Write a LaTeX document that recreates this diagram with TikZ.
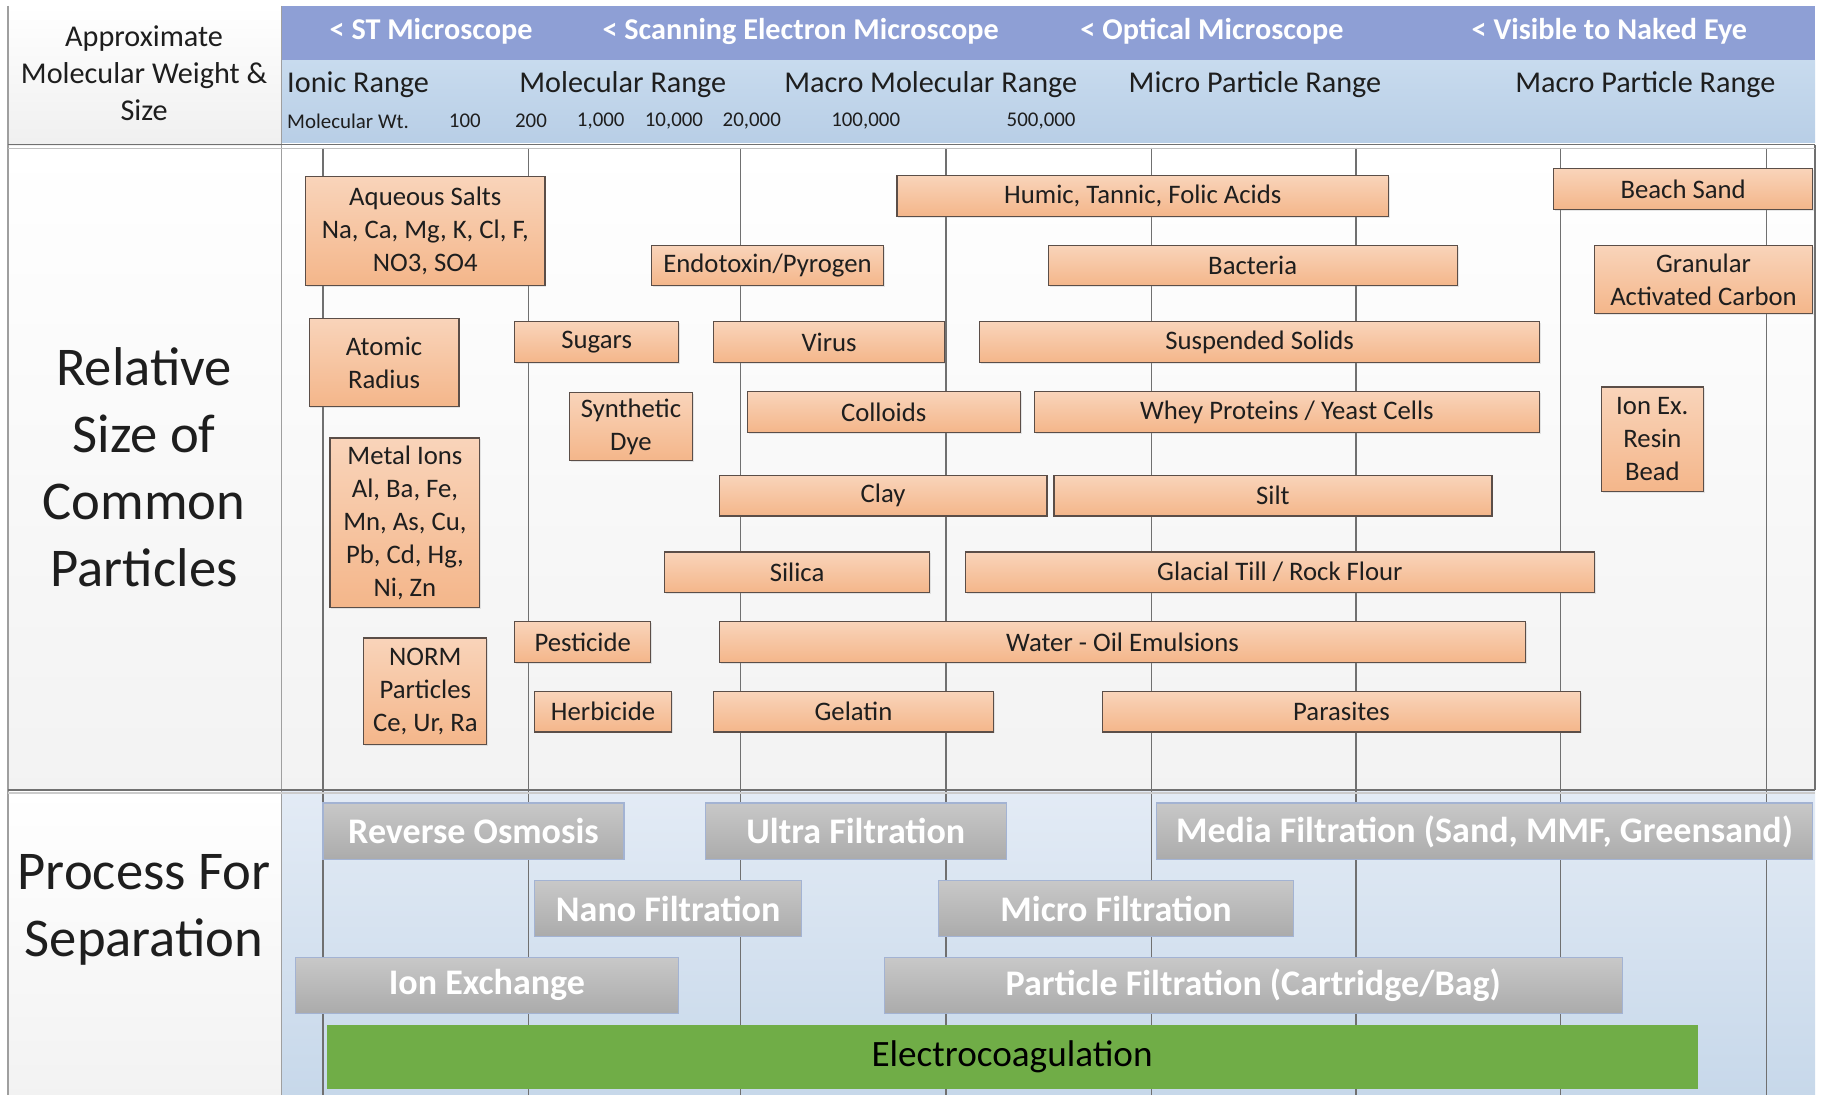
\documentclass[tikz,border=0pt]{standalone}
\usepackage{fontspec}
\setmainfont{Carlito}
\usetikzlibrary{shadows}
\definecolor{orT}{HTML}{F9D4BA}
\definecolor{orB}{HTML}{F4B68A}
\definecolor{orD}{HTML}{5B4E48}
\definecolor{bandD}{HTML}{8E9FD5}
\definecolor{bandLT}{HTML}{C8DBEE}
\definecolor{bandLB}{HTML}{B8CEE6}
\definecolor{procT}{HTML}{E3EBF5}
\definecolor{procB}{HTML}{C7D8EA}
\definecolor{grT}{HTML}{C8C8C8}
\definecolor{grB}{HTML}{ABABAB}
\definecolor{grD}{HTML}{A3B3D3}
\definecolor{ecG}{HTML}{70AD47}
\definecolor{gridc}{HTML}{707070}
\definecolor{txt}{HTML}{1E1E1E}
\tikzset{
  pbox/.style={draw=orD, line width=1pt, top color=orT, bottom color=orB, align=center,
    inner sep=0pt, text=txt, font=\fontsize{23}{28.5}\selectfont,
    drop shadow={shadow xshift=1.2pt, shadow yshift=-1.2pt, opacity=0.18}},
  gbox/.style={draw=grD, line width=1pt, top color=grT, bottom color=grB, align=center,
    inner sep=0pt, text=white, font=\fontsize{31}{36}\selectfont\bfseries},
  lbl/.style={align=center, inner sep=0pt, text=txt},
  hd/.style={inner sep=0pt, text=white, font=\fontsize{26}{30}\selectfont\bfseries},
  rng/.style={inner sep=0pt, text=txt, font=\fontsize{26}{30}\selectfont},
  mw/.style={inner sep=0pt, text=txt, font=\fontsize{18}{22}\selectfont},
  gridline/.style={draw=gridc, line width=1.2pt},
  frame/.style={draw=gray!75, line width=1.2pt}
}
\begin{document}
\begin{tikzpicture}[x=1pt,y=-1pt]
\useasboundingbox (0,0) rectangle (1568,942);
\fill[white] (0,0) rectangle (1568,942);
% backgrounds
\shade[top color=white, bottom color=gray!12] (7,5) rectangle (242,125);
\fill[bandD] (242,5) rectangle (1562,52);
\shade[top color=bandLT, bottom color=bandLB] (242,52) rectangle (1562,123);
\shade[top color=white, bottom color=gray!10] (7,127) rectangle (1562,680);
\shade[top color=white, bottom color=gray!10] (7,680) rectangle (242,942);
\shade[top color=procT, bottom color=procB] (242,681) rectangle (1562,942);
% grid lines
\foreach \gx in {278,455,637,814,991,1167,1343,1520}
  \draw[gridline] (\gx,127) -- (\gx,942);
\draw[frame] (7,5) -- (7,942);
\draw[frame] (242,5) -- (242,942);
\draw[gridline] (1562,125) -- (1562,680);
\draw[gridline] (7,124.5) -- (1562,124.5);
\draw[draw=gray!50, line width=1pt] (7,127.5) -- (1562,127.5);
\draw[gridline] (7,680) -- (1562,680);
\draw[draw=gray!40, line width=1pt] (7,682.5) -- (1562,682.5);
% header left
\node[lbl, font=\fontsize{26}{32}\selectfont] (hdrleft) at (124,63) {Approximate\\Molecular Weight \&\\Size};
% top band
\node[hd] (st) at (371,27) {< ST Microscope};
\node[hd] (sem) at (689,27) {< Scanning Electron Microscope};
\node[hd] (opt) at (1043,27) {< Optical Microscope};
\node[hd] (eye) at (1385,27) {< Visible to Naked Eye};
% range row
\node[rng, anchor=west] (ionic) at (247,73) {Ionic Range};
\node[rng] (molr) at (536,73) {Molecular Range};
\node[rng] (macmol) at (801,73) {Macro Molecular Range};
\node[rng] (micp) at (1080,73) {Micro Particle Range};
\node[rng] (macp) at (1416,73) {Macro Particle Range};
% molecular weight row
\node[mw, anchor=west] (mwt) at (247,104) {Molecular Wt.};
\node[mw] (m1) at (400,104) {100};
\node[mw] (m2) at (457,104) {200};
\node[mw] (m3) at (517,104) {1,000};
\node[mw] (m4) at (580,104) {10,000};
\node[mw] (m5) at (647,104) {20,000};
\node[mw] (m6) at (745,104) {100,000};
\node[mw] (m7) at (896,104) {500,000};
% section labels
\node[lbl, font=\fontsize{47}{57.7}\selectfont] (rel) at (124,402) {Relative\\Size of\\Common\\Particles};
\node[lbl, font=\fontsize{47}{58}\selectfont] (proc) at (124,783) {Process For\\Separation};
% particle boxes
\node[pbox, minimum width=206pt, minimum height=94pt] (aq) at (366,199) {Aqueous Salts\\Na, Ca, Mg, K, Cl, F,\\NO3, SO4};
\node[pbox, minimum width=423pt, minimum height=35pt] (humic) at (983.5,168.5) {Humic, Tannic, Folic Acids};
\node[pbox, minimum width=223pt, minimum height=35pt] (beach) at (1448.5,162.5) {Beach Sand};
\node[pbox, minimum width=199pt, minimum height=35pt] (endo) at (660.5,228.5) {Endotoxin/Pyrogen};
\node[pbox, minimum width=352pt, minimum height=35pt] (bact) at (1078,228.5) {Bacteria};
\node[pbox, minimum width=188pt, minimum height=59pt] (gac) at (1466,240.5) {Granular\\Activated Carbon};
\node[pbox, minimum width=129pt, minimum height=76pt] (atomic) at (330.5,312) {Atomic\\Radius};
\node[pbox, minimum width=141pt, minimum height=35pt] (sugars) at (513.5,294.5) {Sugars};
\node[pbox, minimum width=199pt, minimum height=35pt] (virus) at (713.5,294.5) {Virus};
\node[pbox, minimum width=482pt, minimum height=35pt] (susp) at (1084,294.5) {Suspended Solids};
\node[pbox, minimum width=106pt, minimum height=58pt] (dye) at (543,367) {Synthetic\\Dye};
\node[pbox, minimum width=235pt, minimum height=35pt] (coll) at (760.5,354.5) {Colloids};
\node[pbox, minimum width=435pt, minimum height=35pt] (whey) at (1107.5,354.5) {Whey Proteins / Yeast Cells};
\node[pbox, minimum width=88pt, minimum height=90pt] (ionex) at (1422,378) {Ion Ex.\\Resin\\Bead};
\node[pbox, minimum width=129pt, minimum height=146pt] (metal) at (348.5,450) {Metal Ions\\Al, Ba, Fe,\\Mn, As, Cu,\\Pb, Cd, Hg,\\Ni, Zn};
\node[pbox, minimum width=282pt, minimum height=35pt] (clay) at (760,426.5) {Clay};
\node[pbox, minimum width=377pt, minimum height=35pt] (silt) at (1095.5,426.5) {Silt};
\node[pbox, minimum width=228pt, minimum height=35pt] (silica) at (686,492.5) {Silica};
\node[pbox, minimum width=541pt, minimum height=35pt] (glacial) at (1101.5,492.5) {Glacial Till / Rock Flour};
\node[pbox, minimum width=117pt, minimum height=35pt] (pest) at (501.5,552.5) {Pesticide};
\node[pbox, minimum width=694pt, minimum height=35pt] (water) at (966,552.5) {Water - Oil Emulsions};
\node[pbox, minimum width=106pt, minimum height=92pt] (norm) at (366,595) {NORM\\Particles\\Ce, Ur, Ra};
\node[pbox, minimum width=118pt, minimum height=35pt] (herb) at (519,612.5) {Herbicide};
\node[pbox, minimum width=241pt, minimum height=35pt] (gel) at (734.5,612.5) {Gelatin};
\node[pbox, minimum width=411pt, minimum height=35pt] (para) at (1154.5,612.5) {Parasites};
% process boxes
\node[gbox, minimum width=259pt, minimum height=49pt] (ro) at (407.5,715.5) {Reverse Osmosis};
\node[gbox, minimum width=259pt, minimum height=49pt] (uf) at (736.5,715.5) {Ultra Filtration};
\node[gbox, minimum width=565pt, minimum height=49pt] (media) at (1277.5,715.5) {Media Filtration (Sand, MMF, Greensand)};
\node[gbox, minimum width=230pt, minimum height=48pt] (nf) at (575,782) {Nano Filtration};
\node[gbox, minimum width=305pt, minimum height=48pt] (mf) at (960.5,782) {Micro Filtration};
\node[gbox, minimum width=330pt, minimum height=48pt] (ix) at (419,848) {Ion Exchange};
\node[gbox, minimum width=635pt, minimum height=48pt] (pf) at (1078.5,848) {Particle Filtration (Cartridge/Bag)};
\node[fill=ecG, minimum width=1180pt, minimum height=55pt, inner sep=0pt, text=black,
  font=\fontsize{32}{36}\selectfont] (ec) at (871,909.5) {Electrocoagulation};
\end{tikzpicture}
\end{document}
